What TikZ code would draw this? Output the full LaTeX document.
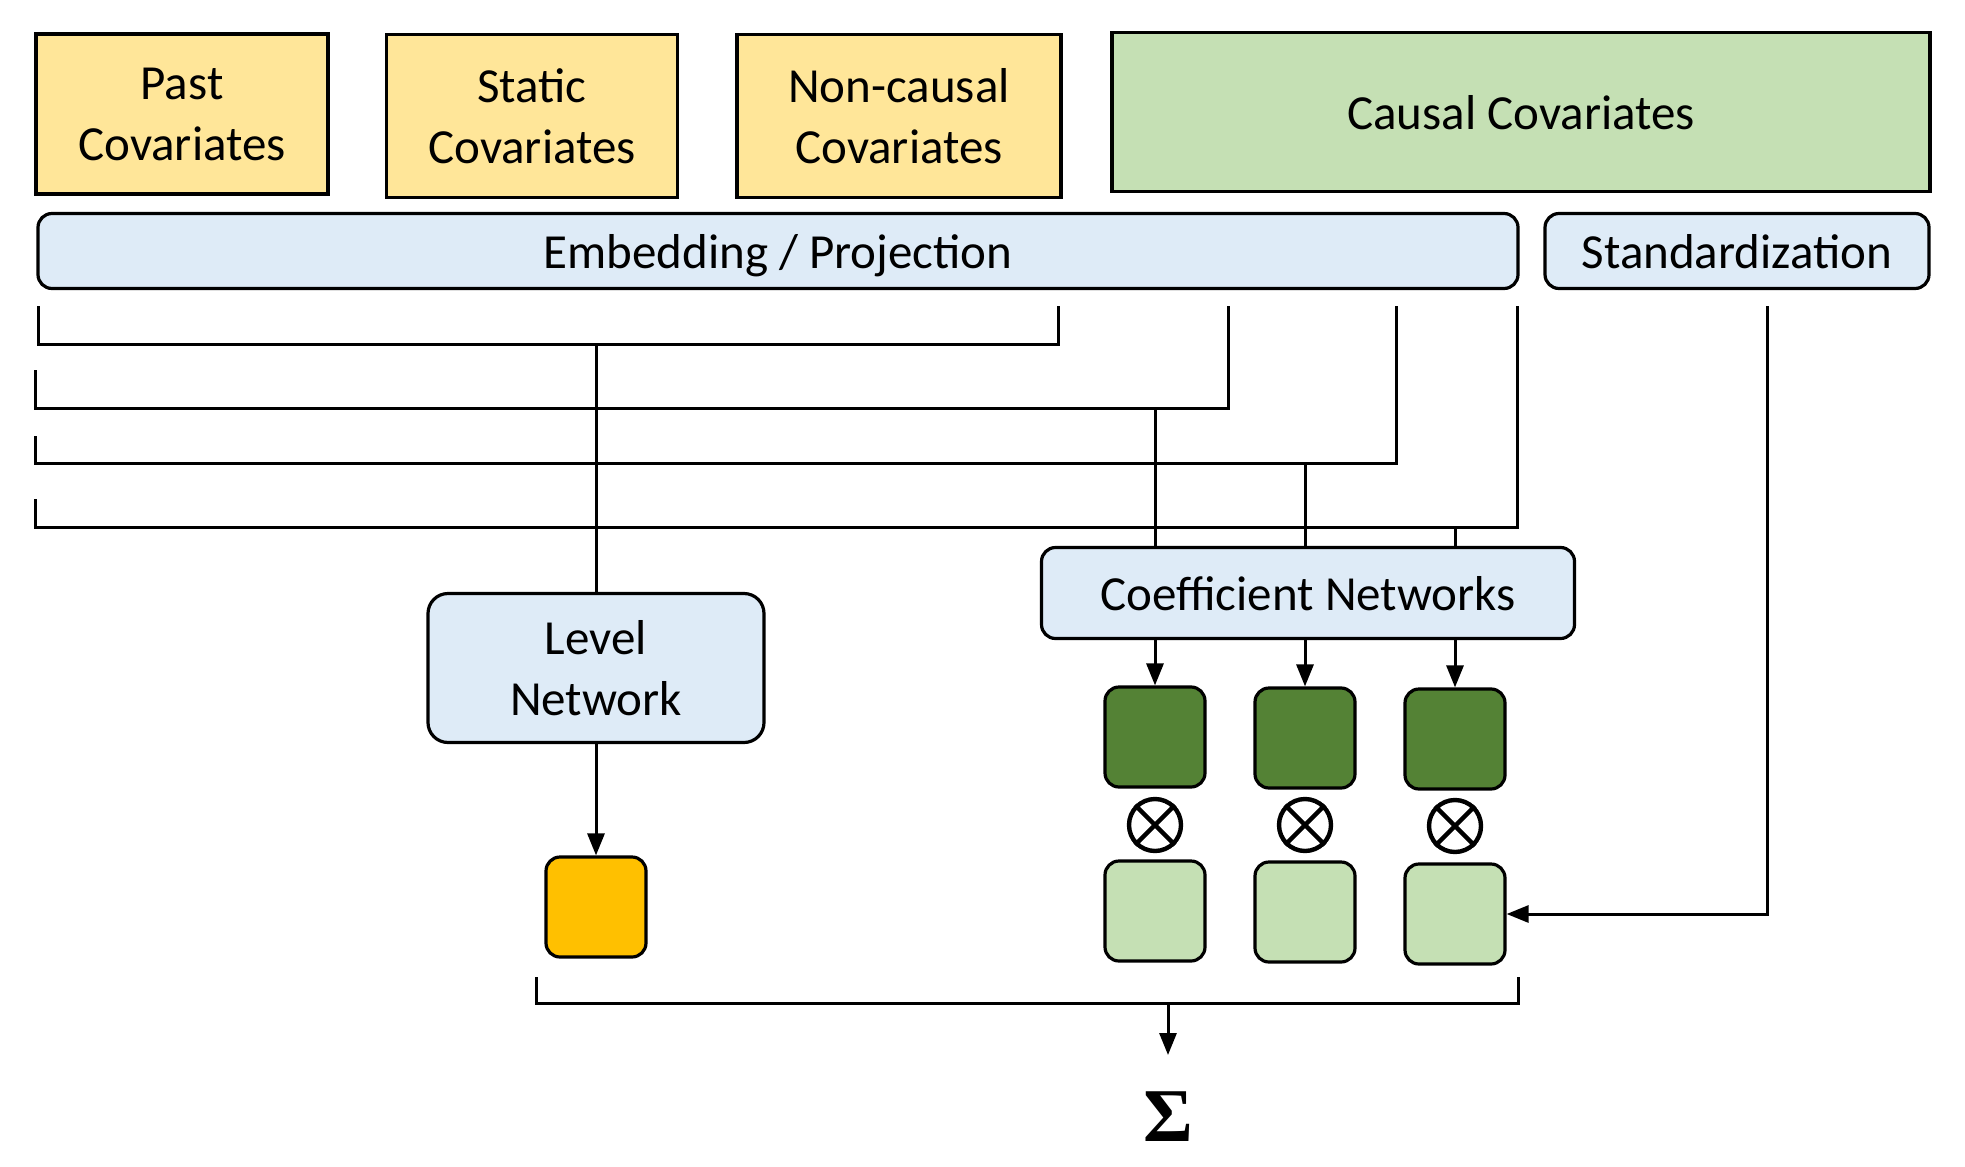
\documentclass[tikz,border=0pt]{standalone}
\usepackage{fontspec}
\setmainfont{Carlito}
\newfontfamily\sigmafont{Liberation Serif}
\usetikzlibrary{arrows.meta}
\definecolor{cyel}{HTML}{FFE699}
\definecolor{cgreen}{HTML}{C5E0B4}
\definecolor{cblue}{HTML}{DEEBF7}
\definecolor{cdark}{HTML}{548235}
\definecolor{corange}{HTML}{FFC000}
\begin{document}
\begin{tikzpicture}[x=0.5pt,y=-0.5pt,
  txt/.style={align=center, font=\fontsize{24.5}{30.5}\selectfont, inner sep=0pt},
  sqbox/.style={txt, draw, line width=1.8pt, fill=cyel},
  rbox/.style={txt, draw, line width=1.6pt, rounded corners=7pt, fill=cblue},
  oneline/.style={text depth=0pt},
  tile/.style={draw, line width=1.6pt, rounded corners=7pt, minimum width=50pt, minimum height=50pt, inner sep=0pt},
  conn/.style={line width=1.5pt},
  arr/.style={conn, -{Triangle[length=11pt,width=8.5pt]}},
  otimesnode/.style={circle, draw, line width=2.2pt, minimum size=26pt, inner sep=0pt}
]
\useasboundingbox (0,0) rectangle (1965,1167);

% top boxes
\node[sqbox, minimum width=146pt, minimum height=80pt] (past) at (182,114) {Past\\Covariates};
\node[sqbox, minimum width=145.5pt, minimum height=81.5pt] (static) at (532,116) {Static\\Covariates};
\node[sqbox, minimum width=162pt, minimum height=81.5pt] (noncausal) at (899,116) {Non-causal\\Covariates};
\node[sqbox, oneline, fill=cgreen, minimum width=409pt, minimum height=79.5pt] (causal) at (1521,112) {Causal Covariates};

\node[rbox, oneline, minimum width=740pt, minimum height=37.5pt] (embed) at (778,251) {Embedding / Projection};
\node[rbox, oneline, minimum width=192pt, minimum height=37.5pt] (stand) at (1737,251) {Standardization};

\node[rbox, oneline, minimum width=266.5pt, minimum height=45.5pt] (coef) at (1308,593) {Coefficient Networks};
\node[rbox, rounded corners=10pt, minimum width=168pt, minimum height=74.5pt] (level) at (596,668) {Level\\Network};

% tiles
\node[tile, fill=corange] (orange) at (596,907) {};
\node[tile, fill=cdark] (dg1) at (1155,737) {};
\node[tile, fill=cdark] (dg2) at (1305,738) {};
\node[tile, fill=cdark] (dg3) at (1455,739) {};
\node[tile, fill=cgreen] (lg1) at (1155,911) {};
\node[tile, fill=cgreen] (lg2) at (1305,912) {};
\node[tile, fill=cgreen] (lg3) at (1455,914) {};

\foreach \i/\x/\y in {1/1155/825, 2/1305/825, 3/1455/826}{
  \node[otimesnode] (ox\i) at (\x,\y) {};
  \draw[line width=2.2pt] (ox\i.north east) -- (ox\i.south west) (ox\i.north west) -- (ox\i.south east);
}

\node[font=\sigmafont\fontsize{38}{38}\selectfont\bfseries, inner sep=0pt] (sig) at (1168,1117) {Σ};

% bracket connectors
\coordinate (b1l) at (38,306);  \coordinate (b1r) at (1058,306);
\coordinate (b2l) at (35,370);  \coordinate (b2r) at (1228,306);
\coordinate (b3l) at (35,436);  \coordinate (b3r) at (1396,306);
\coordinate (b4l) at (35,499);  \coordinate (b4r) at (1517,306);
\draw[conn] (b1l) -- (38,344) -| (b1r);
\draw[conn] (b2l) -- (35,408) -| (b2r);
\draw[conn] (b3l) -- (35,463) -| (b3r);
\draw[conn] (b4l) -- (35,527) -| (b4r);

\coordinate (j1) at (596,344);
\coordinate (j2) at (1155,408);
\coordinate (j3) at (1305,463);
\coordinate (j4) at (1455,527);
\draw[conn] (j1) -- (level.north);
\draw[conn] (j2) -- (j2 |- coef.north);
\draw[conn] (j3) -- (j3 |- coef.north);
\draw[conn] (j4) -- (j4 |- coef.north);

\draw[arr] (dg1 |- coef.south) -- (dg1.north);
\draw[arr] (dg2 |- coef.south) -- (dg2.north);
\draw[arr] (dg3 |- coef.south) -- (dg3.north);
\draw[arr] (level.south) -- (orange.north);

\coordinate (s0) at (1767,306);
\draw[arr] (s0) |- (lg3.east);

% bottom bracket
\coordinate (bl) at (536,977); \coordinate (br) at (1518,977);
\draw[conn] (bl) -- (536,1003) -| (br);
\coordinate (bm) at (1168,1003); \coordinate (be) at (1168,1055);
\draw[arr] (bm) -- (be);
\end{tikzpicture}
\end{document}
